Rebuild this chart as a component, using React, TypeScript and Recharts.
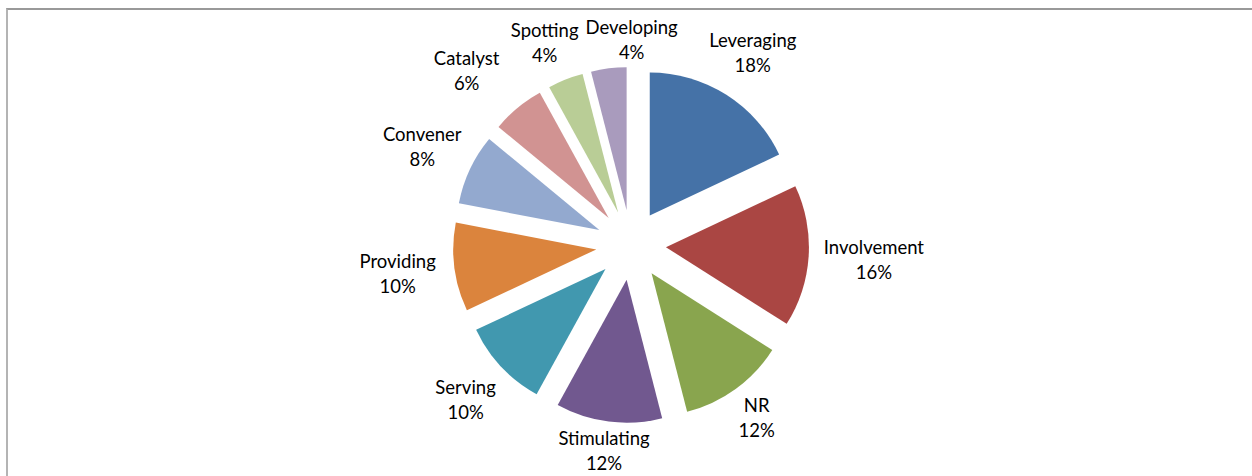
import { PieChart, Pie, Cell, Sector } from "recharts";

const NAMES = ["Leveraging", "Involvement", "NR", "Stimulating", "Serving", "Providing", "Convener", "Catalyst", "Spotting", "Developing"];
const VALUES = [18, 16, 12, 12, 10, 10, 8, 6, 4, 4];
const COLORS = ["#4572A7", "#AA4643", "#89A54E", "#71588F", "#4198AF", "#DB843D", "#93A9CF", "#D19392", "#B9CD96", "#A99BBD"];

const data = NAMES.map((name, i) => ({ name, value: VALUES[i] }));

const EXPLODE = 35;
const GAP = 15;
const FONT = 18.5;
const CHAR_W = 9;
const LABEL_H = 46;
const RAD = Math.PI / 180;

type Box = { x: number; y: number; w: number };
let layoutCache: Box[] | null = null;

// place labels outside each slice's mid angle, keep them inside the plot, then nudge apart any that collide
function layoutLabels(cx: number, cy: number, r: number, mids: number[]): Box[] {
  if (layoutCache) return layoutCache;
  const boxes = mids.map((mid, i) => {
    const cos = Math.cos(-mid * RAD);
    const sin = Math.sin(-mid * RAD);
    const w = Math.max(NAMES[i].length, 3) * CHAR_W;
    const k = sin < 0 ? 12 : 16;
    const dist = r + EXPLODE + GAP + (w / 2) * Math.abs(cos) + k * Math.abs(sin);
    const y = Math.min(Math.max(cy + dist * sin, 40), 451);
    return { x: cx + dist * cos, y, w };
  });
  for (let pass = 0; pass < 30; pass++) {
    for (let i = 0; i < boxes.length; i++) {
      for (let j = i + 1; j < boxes.length; j++) {
        const a = boxes[i];
        const b = boxes[j];
        const ox = (a.w + b.w) / 2 + 6 - Math.abs(a.x - b.x);
        const oy = LABEL_H - Math.abs(a.y - b.y);
        if (ox > 0 && oy > 0) {
          const dir = a.x < b.x ? -1 : 1;
          a.x += (dir * ox) / 2;
          b.x -= (dir * ox) / 2;
        }
      }
    }
  }
  layoutCache = boxes;
  return boxes;
}

// draws the exploded slice plus its two-line label, using the angles recharts computed
function renderSlice(props: any) {
  const { cx, cy, outerRadius, startAngle, endAngle, index } = props;
  const mid = (startAngle + endAngle) / 2;
  const cos = Math.cos(-mid * RAD);
  const sin = Math.sin(-mid * RAD);

  // mid angles for every slice, same clockwise-from-top sweep the Pie uses
  const total = VALUES.reduce((s, v) => s + v, 0);
  let acc = 0;
  const mids = VALUES.map((v) => {
    const m = 90 - ((acc + v / 2) / total) * 360;
    acc += v;
    return m;
  });
  const box = layoutLabels(cx, cy, outerRadius, mids)[index];

  return (
    <g key={`slice-${index}`}>
      <Sector
        cx={cx + EXPLODE * cos}
        cy={cy + EXPLODE * sin}
        innerRadius={0}
        outerRadius={outerRadius}
        startAngle={startAngle}
        endAngle={endAngle}
        fill={COLORS[index]}
        stroke="none"
      />
      <text textAnchor="middle" fontFamily="Lato, 'Liberation Sans', sans-serif" fontSize={FONT} fill="#000">
        <tspan x={box.x} y={box.y - 6}>{NAMES[index]}</tspan>
        <tspan x={box.x} y={box.y + 19}>{`${VALUES[index]}%`}</tspan>
      </text>
    </g>
  );
}

export default function App() {
  return (
    <div style={{ position: "absolute", left: 0, top: 0, width: 1252, height: 476, background: "#fff", overflow: "hidden" }}>
      <div
        style={{
          position: "absolute",
          left: 6,
          top: 8,
          width: 1300,
          height: 520,
          borderLeft: "2px solid #b4b4b4",
          borderTop: "2px solid #999",
        }}
      />
      <PieChart width={1252} height={476} style={{ position: "absolute", left: 0, top: 0 }}>
        <Pie
          data={data}
          dataKey="value"
          nameKey="name"
          cx={626}
          cy={240}
          outerRadius={143}
          startAngle={90}
          endAngle={-270}
          stroke="none"
          label={renderSlice}
          labelLine={false}
          isAnimationActive={false}
        >
          {data.map((entry) => (
            <Cell key={`cell-${entry.name}`} fill="transparent" />
          ))}
        </Pie>
      </PieChart>
    </div>
  );
}
